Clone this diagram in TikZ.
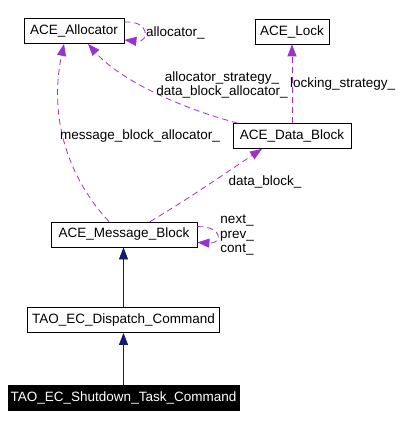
\documentclass[tikz,border=0pt]{standalone}
\usepackage{fontspec}
\setmainfont{Liberation Sans}
\usetikzlibrary{arrows.meta}
\definecolor{edgepurple}{HTML}{9A32CD}
\definecolor{edgenavy}{HTML}{191970}

\begin{document}
\begin{tikzpicture}[x=1pt,y=-1pt,
        cls/.style={draw=black,line width=0.8pt,minimum height=25pt,inner sep=0pt,font=\fontsize{13.5}{15}\selectfont},
        lbl/.style={inner sep=0pt,align=center,font=\fontsize{13.5}{14.5}\selectfont},
        member/.style={edgepurple,line width=0.8pt,dash pattern=on 6pt off 4pt,-{Triangle[length=12pt,width=9pt]}},
        inherit/.style={edgenavy,line width=0.8pt,-{Triangle[length=12pt,width=9pt]}}]
        \useasboundingbox (0,0) rectangle (404,427);
        % classes
        \node[cls,minimum width=100pt] (alloc) at (74,31) {ACE\_Allocator};
        \node[cls,minimum width=74pt] (lock) at (292,31.5) {ACE\_Lock};
        \node[cls,minimum width=118pt] (datablk) at (292,136) {ACE\_Data\_Block};
        \node[cls,minimum width=146pt] (msgblk) at (124,234.5) {ACE\_Message\_Block};
        \node[cls,minimum width=192pt] (dispatch) at (123.5,320) {TAO\_EC\_Dispatch\_Command};
        \node[cls,minimum width=231pt,fill=black,text=white] (shutdown) at (123.5,397.5) {TAO\_EC\_Shutdown\_Task\_Command};
        % inheritance
        \draw[inherit] (shutdown.north) -- (dispatch.south);
        \draw[inherit] (dispatch.north) -- (dispatch.north |- msgblk.south);
        % members
        \draw[member] ([yshift=-4pt]alloc.north east) .. controls (150,20) and (150,43) .. ([yshift=4pt]alloc.south east);
        \node[lbl,anchor=west] (lblalloc) at (146,33) {allocator\_};
        \draw[member] ([xshift=5pt]datablk.north west) .. controls (180,108) and (120,80) .. ([xshift=14pt]alloc.south);
        \node[lbl] (lblstrat) at (222,85) {allocator\_strategy\_\\data\_block\_allocator\_};
        \draw[member] (datablk.north) -- (lock.south);
        \node[lbl,anchor=west] (lbllock) at (290,84) {locking\_strategy\_};
        \draw[member] ([xshift=-15pt]msgblk.north) .. controls (70,180) and (48,120) .. ([xshift=-10pt]alloc.south);
        \node[lbl] (lblmsgalloc) at (140,136) {message\_block\_allocator\_};
        \draw[member] ([xshift=26pt]msgblk.north) .. controls (190,198) and (230,170) .. ([xshift=-30pt]datablk.south);
        \node[lbl] (lbldata) at (265,182) {data\_block\_};
        \draw[member] ([yshift=-5pt]msgblk.north east) .. controls (223,226) and (223,244) .. ([yshift=5pt]msgblk.south east);
        \node[lbl] (lblnext) at (237,235) {next\_\\prev\_\\cont\_};
    \end{tikzpicture}
\end{document}
